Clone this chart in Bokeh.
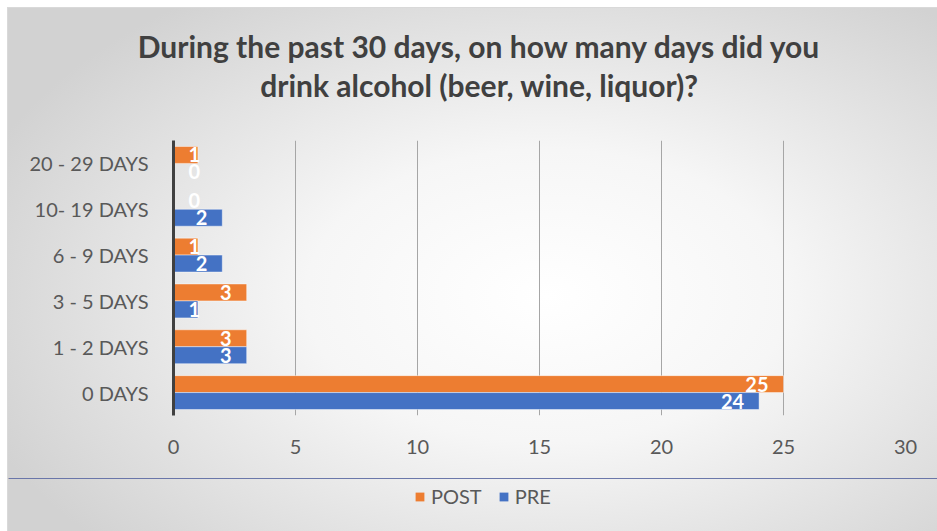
from bokeh.plotting import figure
from bokeh.layouts import column
from bokeh.models import (Range1d, FactorRange, ColumnDataSource, LabelSet, Label,
                          Legend, LegendItem, SingleIntervalTicker)
from bokeh.core.properties import value
from bokeh.transform import dodge
from bokeh.embed import file_html
from bokeh.resources import INLINE

categories = ["0 DAYS", "1 - 2 DAYS", "3 - 5 DAYS", "6 - 9 DAYS", "10- 19 DAYS", "20 - 29 DAYS"]
post_values = [25, 3, 3, 1, 0, 1]
pre_values = [24, 3, 1, 2, 2, 0]
series_names = ["POST", "PRE"]
title_lines = ["During the past 30 days, on how many days did you",
               "drink alcohol (beer, wine, liquor)?"]

ORANGE = "#ED7D31"
BLUE = "#4472C4"
TXT = "#595959"
FONT = "Lato"

# labels of long bars sit inside the bar end; labels of short bars start near the axis
source = ColumnDataSource(dict(
    cat=categories,
    post=post_values,
    pre=pre_values,
    post_in=[str(v) if v >= 2 else "" for v in post_values],
    pre_in=[str(v) if v >= 2 else "" for v in pre_values],
    post_base=[str(v) if v < 2 else "" for v in post_values],
    pre_base=[str(v) if v < 2 else "" for v in pre_values],
    zero=[0] * len(categories),
))


def bare(fig):
    fig.border_fill_color = None
    fig.background_fill_color = None
    fig.outline_line_color = None
    fig.title.visible = False


# ---- title strip ----
tfig = figure(width=929, height=110, output_backend="svg", toolbar_location=None,
              x_range=Range1d(0, 1), y_range=Range1d(0, 1),
              x_axis_type=None, y_axis_type=None, frame_align=False,
              min_border_left=0, min_border_right=0, min_border_top=0, min_border_bottom=0)
bare(tfig)
tfig.grid.visible = False
for i, t in enumerate(title_lines):
    tfig.add_layout(Label(x=471, y=73 - 39 * i, x_units="screen", y_units="screen", text=t,
                          text_align="center", text_baseline="alphabetic", text_color="#404040",
                          text_font=FONT, text_font_style="bold", text_font_size="30px"))

# ---- main chart ----
p = figure(width=929, height=360, output_backend="svg", toolbar_location=None,
           x_range=Range1d(0, 30), y_range=FactorRange(factors=categories),
           min_border_left=165, min_border_right=32, min_border_top=22,
           min_border_bottom=63)
bare(p)

bh = 0.37
r_post = p.hbar(y=dodge("cat", 0.185, range=p.y_range), right="post", left=0, height=bh,
                source=source, fill_color=ORANGE, line_color="white", line_alpha=0.45)
r_pre = p.hbar(y=dodge("cat", -0.185, range=p.y_range), right="pre", left=0, height=bh,
               source=source, fill_color=BLUE, line_color="white", line_alpha=0.45)

for series, off in [("post", 0.185), ("pre", -0.185)]:
    ypos = dodge("cat", off, range=p.y_range)
    p.add_layout(LabelSet(x=series, y=ypos, text=series + "_in", source=source,
                          text_align="right", text_baseline="middle", x_offset=-15,
                          text_color="white", text_font=value(FONT), text_font_style="bold",
                          text_font_size="20px"))
    p.add_layout(LabelSet(x="zero", y=ypos, text=series + "_base", source=source,
                          text_align="left", text_baseline="middle", x_offset=15,
                          text_color="white", text_font=value(FONT), text_font_style="bold",
                          text_font_size="20px"))

p.xaxis.ticker = SingleIntervalTicker(interval=5)
p.xaxis.axis_line_color = None
p.xaxis.major_tick_line_color = None
p.xaxis.minor_tick_line_color = None
p.xaxis.major_tick_out = 0
p.xaxis.major_label_text_color = TXT
p.xaxis.major_label_text_font = FONT
p.xaxis.major_label_text_font_size = "20px"
p.xaxis.major_label_standoff = 20

p.yaxis.axis_line_color = "#404040"
p.yaxis.axis_line_width = 3
p.yaxis.major_tick_line_color = None
p.yaxis.minor_tick_line_color = None
p.yaxis.major_tick_out = 0
p.yaxis.major_label_text_color = TXT
p.yaxis.major_label_text_font = FONT
p.yaxis.major_label_text_font_size = "20px"
p.yaxis.major_label_standoff = 25

p.xgrid.grid_line_color = "#a6a6a6"
p.xgrid.grid_line_width = 1
p.ygrid.grid_line_color = None

# ---- legend strip ----
leg = figure(width=929, height=53, output_backend="svg", toolbar_location=None,
             x_range=Range1d(0, 1), y_range=Range1d(-100, -99),
             x_axis_type=None, y_axis_type=None, frame_align=False,
             min_border_left=0, min_border_right=0, min_border_top=0, min_border_bottom=0)
bare(leg)
leg.grid.visible = False
# swatch renderers carry the series data but lie outside this strip's ranges
k_post = leg.hbar(y="post", right="post", left=0, height=0.5, source=source,
                  fill_color=ORANGE, line_color=None)
k_pre = leg.hbar(y="pre", right="pre", left=0, height=0.5, source=source,
                 fill_color=BLUE, line_color=None)
legend = Legend(items=[LegendItem(label=series_names[0], renderers=[k_post], index=0),
                       LegendItem(label=series_names[1], renderers=[k_pre], index=0)],
                orientation="horizontal", location=(406, 23),
                background_fill_alpha=0, border_line_color=None,
                glyph_width=11, glyph_height=11, label_standoff=6, spacing=16,
                padding=0, margin=0,
                label_text_font=FONT, label_text_font_size="20px", label_text_color=TXT)
leg.add_layout(legend, "center")

layout = column(tfig, p, leg, spacing=0)
layout.styles = {"margin-left": "7px", "margin-top": "7px",
                 "border": "1px solid #d9d9d9",
                 "background": "radial-gradient(ellipse 65% 70% at 58% 55%, #ffffff 0%, #f6f6f6 40%, #d2d2d2 100%)"}

open("out.html", "w").write(file_html(layout, INLINE))
